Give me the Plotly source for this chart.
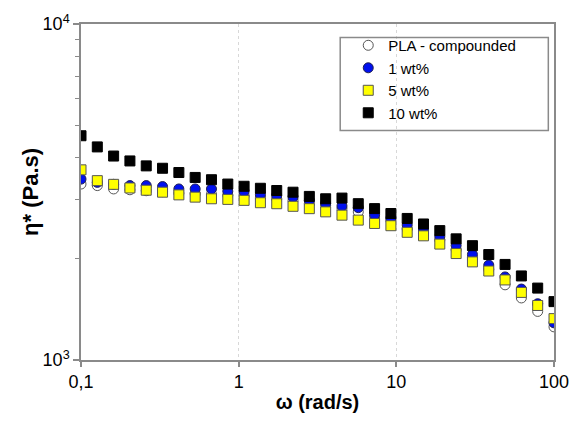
import plotly.graph_objects as go

# angular frequency (rad/s)
omega = [0.1, 0.1269, 0.1610, 0.2043, 0.2593, 0.3290, 0.4175, 0.5298, 0.6723, 0.8532,
         1.0826, 1.3738, 1.7433, 2.2122, 2.8072, 3.5622, 4.5204, 5.7362, 7.2790, 9.2367,
         11.72, 14.87, 18.87, 23.95, 30.39, 38.57, 48.94, 62.10, 78.80, 100.0]

# complex viscosity (Pa.s)
pla = [3339, 3304, 3229, 3211, 3190, 3169, 3137, 3126, 3115, 3094,
       3088, 3053, 3019, 2986, 2918, 2887, 2821, 2760, 2667, 2604,
       2455, 2383, 2279, 2130, 2013, 1861, 1674, 1530, 1395, 1255]
wt1 = [3454, 3378, 3333, 3304, 3304, 3282, 3229, 3229, 3229, 3179,
       3173, 3109, 3088, 3053, 2986, 2918, 2873, 2840, 2709, 2638,
       2522, 2438, 2330, 2193, 2060, 1916, 1767, 1626, 1470, 1290]
wt5 = [3681, 3418, 3333, 3251, 3201, 3158, 3101, 3053, 3019, 3006,
       2986, 2938, 2918, 2867, 2821, 2760, 2698, 2608, 2549, 2510,
       2399, 2342, 2213, 2074, 1959, 1840, 1731, 1589, 1453, 1328]
wt10 = [4650, 4307, 4046, 3912, 3782, 3721, 3614, 3494, 3440, 3339,
        3289, 3244, 3195, 3158, 3068, 3019, 3033, 2919, 2822, 2729,
        2638, 2540, 2427, 2294, 2189, 2060, 1925, 1779, 1637, 1492]

names = ["PLA - compounded", "1 wt%", "5 wt%", "10 wt%"]
series = [pla, wt1, wt5, wt10]
symbols = ["circle", "circle", "square", "square"]
fills = ["white", "#0010ee", "#ffff00", "black"]
edges = ["#555555", "#202050", "#555555", "black"]

fig = go.Figure()
for n, s, sym, fc, ec in zip(names, series, symbols, fills, edges):
    fig.add_trace(go.Scatter(
        x=omega, y=s, mode="markers", name=n,
        marker=dict(symbol=sym, size=10, color=fc, line=dict(color=ec, width=1)),
    ))

axis_col = "#8a8a8a"
fig.update_layout(
    width=582, height=424,
    margin=dict(l=81, r=28, t=19, b=64),
    paper_bgcolor="white", plot_bgcolor="white",
    font=dict(family="Liberation Sans, Arial, sans-serif", color="black"),
    showlegend=True,
    legend=dict(
        x=0.565, y=0.985, xanchor="left", yanchor="top",
        bgcolor="rgba(0,0,0,0)", borderwidth=0,
        font=dict(size=15), tracegroupgap=0,
    ),
    shapes=[dict(type="rect", xref="paper", yref="paper",
                 x0=0.548, x1=0.988, y0=0.683, y1=0.960,
                 line=dict(color=axis_col, width=1.5))],
    annotations=[dict(text="<b>η* (Pa.s)</b>", xref="paper", yref="paper",
                      x=-0.108, y=0.5, xanchor="center", yanchor="middle",
                      textangle=-90, showarrow=False, font=dict(size=22))],
)
fig.update_xaxes(
    type="log", range=[-1, 2],
    tickvals=[0.1, 1, 10, 100], ticktext=["0,1", "1", "10", "100"],
    ticks="outside", ticklen=5, tickcolor=axis_col, tickwidth=1.5,
    showline=True, linecolor=axis_col, linewidth=1.5, mirror=True,
    showgrid=True, gridcolor="#d8d8d8", griddash="dot", gridwidth=1,
    zeroline=False,
    tickfont=dict(size=18),
    title=dict(text="<b>ω (rad/s)</b>", font=dict(size=20), standoff=4),
)
fig.update_yaxes(
    type="log", range=[3, 4],
    tickvals=[1000, 10000], ticktext=["10<sup>3</sup>", "10<sup>4</sup>"],
    ticks="outside", ticklen=6, tickcolor=axis_col, tickwidth=1.5,
    minor=dict(tickvals=[2000, 3000, 4000, 5000, 6000, 7000, 8000, 9000],
               ticks="outside", ticklen=4, tickcolor=axis_col, tickwidth=1, showgrid=False),
    showline=True, linecolor=axis_col, linewidth=1.5, mirror=True,
    showgrid=False, zeroline=False,
    tickfont=dict(size=18),
)

fig.write_html("out.html")
